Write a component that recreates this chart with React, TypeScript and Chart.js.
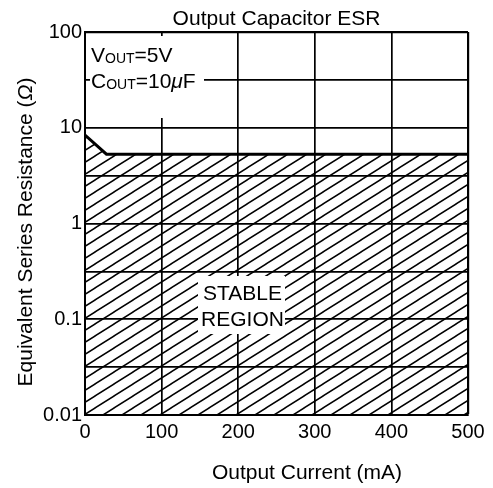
import React, { useEffect, useRef } from 'react';
import { Chart, registerables } from 'chart.js';
Chart.register(...registerables);

// Stability boundary (upper ESR limit) vs output current
const currentMA = [0, 28, 500];
const esrOhm = [8.4, 5.3, 5.3];
const xTickValues = [0, 100, 200, 300, 400, 500];
const yGridValues = [0.01, 0.0316, 0.1, 0.316, 1, 3.16, 10, 31.6, 100];
const yLabelValues = [0.01, 0.1, 1, 10, 100];
const chartTitle = 'Output Capacitor ESR';
const xTitle = 'Output Current (mA)';
const yTitle = 'Equivalent Series Resistance (';

const FONT = "'Liberation Sans', Arial, Helvetica, sans-serif";

function makeHatch(): CanvasPattern | string {
  const c = document.createElement('canvas');
  c.width = 19;
  c.height = 12;
  const g = c.getContext('2d');
  if (!g) return 'rgba(0,0,0,0.2)';
  g.strokeStyle = '#000';
  g.lineWidth = 1.5;
  g.beginPath();
  for (const k of [-1, 0, 1]) {
    g.moveTo(-19 + 19 * k, 24);
    g.lineTo(38 + 19 * k, -12);
  }
  g.stroke();
  return g.createPattern(c, 'repeat') || '#ccc';
}

const textPlugin = {
  id: 'textPlugin',
  afterDatasetsDraw(chart: any) {
    const ctx: CanvasRenderingContext2D = chart.ctx;
    const a = chart.chartArea;
    ctx.save();
    ctx.fillStyle = '#fff';
    ctx.fillRect(a.left + 5, a.top + 4, 114, 82);
    ctx.fillRect(a.left + 113, a.top + 244, 87, 58);
    ctx.fillStyle = '#000';
    ctx.textBaseline = 'alphabetic';
    ctx.textAlign = 'left';
    const big = `21px ${FONT}`;
    const small = `14px ${FONT}`;
    let x = a.left + 6;
    let y = a.top + 30;
    ctx.font = big; ctx.fillText('V', x, y); x += ctx.measureText('V').width;
    ctx.font = small; ctx.fillText('OUT', x, y + 1); x += ctx.measureText('OUT').width;
    ctx.font = big; ctx.fillText('=5V', x, y);
    x = a.left + 6;
    y = a.top + 55.5;
    ctx.font = big; ctx.fillText('C', x, y); x += ctx.measureText('C').width;
    ctx.font = small; ctx.fillText('OUT', x, y + 1); x += ctx.measureText('OUT').width;
    ctx.font = big; ctx.fillText('=10', x, y); x += ctx.measureText('=10').width;
    ctx.font = `italic 21px ${FONT}`; ctx.fillText('\u03BC', x, y); x += ctx.measureText('\u03BC').width;
    ctx.font = big; ctx.fillText('F', x, y);
    ctx.textAlign = 'center';
    ctx.font = big;
    ctx.fillText('STABLE', a.left + 157.5, a.top + 268);
    ctx.fillText('REGION', a.left + 157.5, a.top + 294);
    ctx.restore();
  },
  afterDraw(chart: any) {
    const ctx: CanvasRenderingContext2D = chart.ctx;
    const a = chart.chartArea;
    ctx.save();
    ctx.fillStyle = '#000';
    ctx.textBaseline = 'alphabetic';
    ctx.textAlign = 'center';
    ctx.font = `21px ${FONT}`;
    ctx.fillText(chartTitle, (a.left + a.right) / 2, 24.5);
    ctx.fillText(xTitle, a.left + 222, 478.5);
    ctx.translate(32, 232);
    ctx.rotate(-Math.PI / 2);
    ctx.textAlign = 'left';
    const w1 = ctx.measureText(yTitle).width;
    ctx.font = `italic 21px ${FONT}`;
    const w2 = ctx.measureText('\u03A9').width;
    ctx.font = `21px ${FONT}`;
    const w3 = ctx.measureText(')').width;
    let sx = -(w1 + w2 + w3) / 2;
    ctx.fillText(yTitle, sx, 0); sx += w1;
    ctx.font = `italic 21px ${FONT}`;
    ctx.fillText('\u03A9', sx, 0); sx += w2;
    ctx.font = `21px ${FONT}`;
    ctx.fillText(')', sx, 0);
    ctx.restore();
  },
};

export default function App() {
  const ref = useRef<HTMLCanvasElement | null>(null);
  useEffect(() => {
    if (!ref.current) return;
    const hatch = makeHatch();
    const chart = new Chart(ref.current, {
      type: 'line',
      data: {
        datasets: [
          {
            data: currentMA.map((c, i) => ({ x: c, y: esrOhm[i] })),
            borderColor: '#000',
            borderWidth: 3,
            pointRadius: 0,
            tension: 0,
            fill: 'start',
            backgroundColor: hatch as any,
          },
        ],
      },
      options: {
        animation: false,
        responsive: false,
        events: [],
        layout: { padding: { top: 32, right: 25, left: 0, bottom: 0 } },
        plugins: { legend: { display: false }, tooltip: { enabled: false }, title: { display: false } },
        scales: {
          x: {
            type: 'linear',
            min: 0,
            max: 500,
            afterBuildTicks: (s: any) => {
              s.ticks = xTickValues.map((v) => ({ value: v }));
            },
            afterFit: (s: any) => {
              s.height = 73;
            },
            ticks: {
              color: '#000',
              font: { family: FONT, size: 20 },
              padding: 5,
              maxRotation: 0,
              autoSkip: false,
            },
            grid: { color: '#000', lineWidth: (c: any) => (c.tick && c.tick.value === 500 ? 2.2 : 1.7), drawTicks: false },
            border: { display: true, color: '#000', width: 2 },
          },
          y: {
            type: 'logarithmic',
            min: 0.01,
            max: 100,
            afterBuildTicks: (s: any) => {
              s.ticks = yGridValues.map((v) => ({ value: v }));
            },
            afterFit: (s: any) => {
              s.width = 85;
            },
            ticks: {
              color: '#000',
              font: { family: FONT, size: 20 },
              padding: 3,
              autoSkip: false,
              callback: (v: any) => {
                const n = Number(v);
                const hit = yLabelValues.find((l) => Math.abs(l - n) / l < 1e-6);
                return hit !== undefined ? String(hit) : '';
              },
            },
            grid: { color: '#000', lineWidth: (c: any) => (c.tick && c.tick.value === 100 ? 2.2 : 1.7), drawTicks: false },
            border: { display: true, color: '#000', width: 2 },
          },
        },
      },
      plugins: [textPlugin],
    });
    return () => chart.destroy();
  }, []);
  return (
    <div style={{ position: 'absolute', left: 0, top: 0, width: 493, height: 488, background: '#fff' }}>
      <canvas ref={ref} width={493} height={488} />
    </div>
  );
}
